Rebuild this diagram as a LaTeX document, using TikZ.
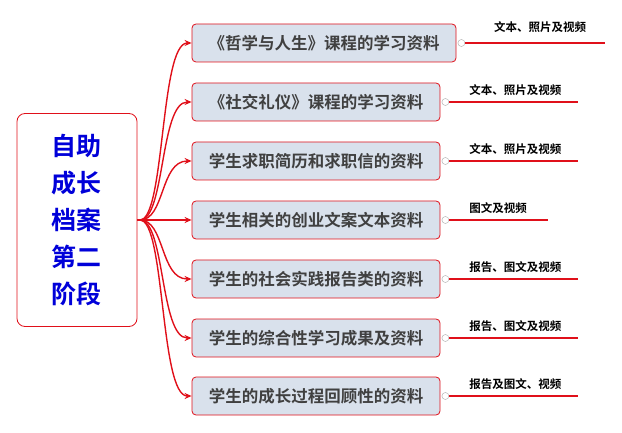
\documentclass[tikz,border=0pt]{standalone}
\usepackage{fontspec}
\newfontfamily\cjk{Noto Sans CJK SC}[BoldFont={* Bold}]
\usetikzlibrary{arrows.meta}
\definecolor{boxfill}{HTML}{D9E1EC}
\definecolor{linered}{HTML}{E0101A}
\begin{document}
\begin{tikzpicture}[x=1pt, y=-1pt, >={Stealth[length=7pt,width=6pt]}, line width=1.4pt]
  \tikzstyle{topic}=[draw=linered, fill=boxfill, line width=0.8pt, rounded corners=4pt, minimum height=38pt, inner sep=0pt, font=\cjk\bfseries\fontsize{16.5}{16}\selectfont\color{black!75}]
  \tikzstyle{note}=[font=\cjk\bfseries\fontsize{11.5}{12}\selectfont, anchor=south]
  \tikzstyle{knob}=[circle, draw=gray!70, fill=white, inner sep=0pt, minimum size=7pt, thin]
  \useasboundingbox (0,0) rectangle (622,433);

  \node[draw=linered, line width=0.8pt, rounded corners=8pt, minimum width=120pt, minimum height=213pt, align=center,
        font=\cjk\bfseries\fontsize{25}{37}\selectfont\color{blue!85!black}] (root) at (77,220) {自助\\成长\\档案\\第二\\阶段};

  \node[topic, minimum width=264pt] (t1) at (324,43) {《哲学与人生》课程的学习资料};
  \node[topic, minimum width=248pt] (t2) at (316,102) {《社交礼仪》课程的学习资料};
  \node[topic, minimum width=248pt] (t3) at (316,161) {学生求职简历和求职信的资料};
  \node[topic, minimum width=248pt] (t4) at (316,220) {学生相关的创业文案文本资料};
  \node[topic, minimum width=248pt] (t5) at (316,279) {学生的社会实践报告类的资料};
  \node[topic, minimum width=248pt] (t6) at (316,338) {学生的综合性学习成果及资料};
  \node[topic, minimum width=248pt] (t7) at (316,396) {学生的成长过程回顾性的资料};

  \coordinate (hub) at (140,220);
  \foreach \t in {t1,t2,t3,t4,t5,t6,t7}
    \draw[->, linered] (root.east) -- (hub) .. controls (165,220) and (160,0 |- \t.west) .. (\t.west);

  % side notes
  \node[knob] (k1) at ([xshift=5pt]t1.east) {};
  \coordinate (e1) at (605,43);
  \draw[linered] (k1) -- (e1);
  \node[note] at (540,37) {文本、照片及视频};
  \foreach \i/\len/\txt in {2/578/文本、照片及视频, 3/578/文本、照片及视频, 4/548/图文及视频, 5/578/报告、图文及视频, 6/578/报告、图文及视频, 7/578/报告及图文、视频} {
    \node[knob] (k\i) at ([xshift=5pt]t\i.east) {};
    \coordinate (e\i) at (\len, 0 |- t\i.east);
    \draw[linered] (k\i) -- (e\i);
    \node[note, anchor=south west] at ([xshift=20pt, yshift=-1pt]k\i.north) {\txt};
  }
\end{tikzpicture}
\end{document}
